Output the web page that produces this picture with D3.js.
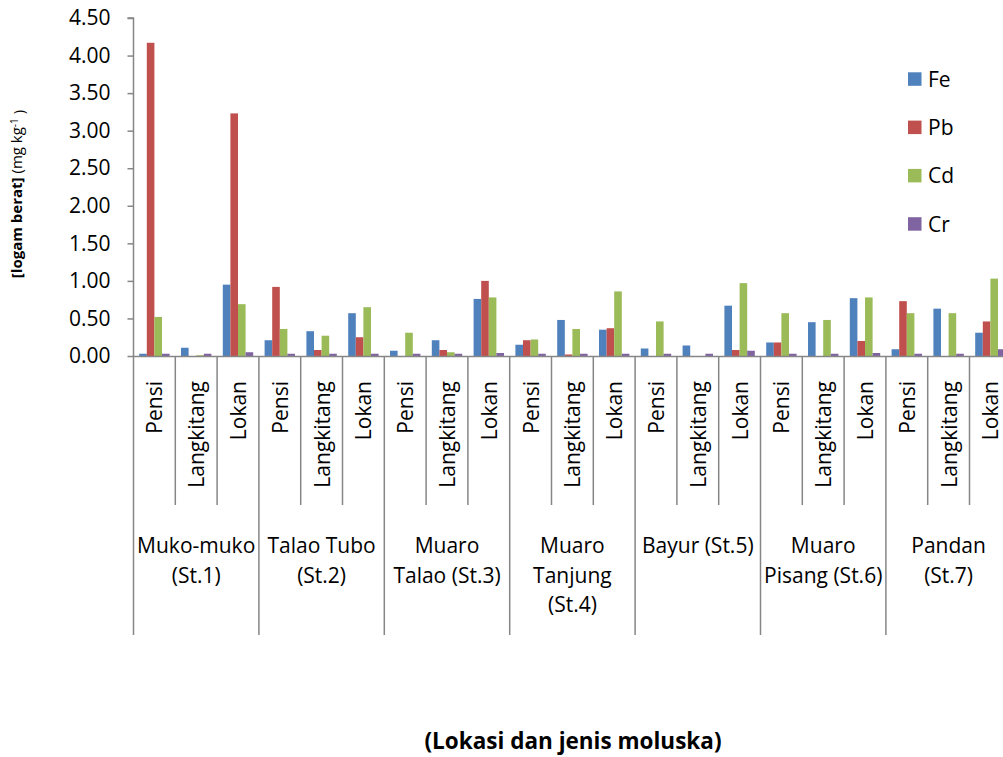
<!DOCTYPE html>
<html>
<head>
<meta charset="utf-8">
<script src="https://cdn.jsdelivr.net/npm/d3@7"></script>
<style>
  html, body { margin: 0; padding: 0; background: #fff; }
  svg { display: block; }
  text { font-family: "Open Sans", sans-serif; fill: #000; }
</style>
</head>
<body>
<svg id="chart" width="1003" height="757"></svg>
<script>
// ---- data ----
const stations = [
  ["Muko-muko", "(St.1)"],
  ["Talao Tubo", "(St.2)"],
  ["Muaro", "Talao (St.3)"],
  ["Muaro", "Tanjung", "(St.4)"],
  ["Bayur (St.5)"],
  ["Muaro", "Pisang (St.6)"],
  ["Pandan", "(St.7)"]
];
const species = ["Pensi", "Langkitang", "Lokan"];
const seriesNames = ["Fe", "Pb", "Cd", "Cr"];
const seriesColors = ["#4F81BD", "#C0504D", "#9BBB59", "#8064A2"];
const Fe = [0.03, 0.11, 0.95, 0.21, 0.33, 0.57, 0.07, 0.21, 0.76, 0.15, 0.48, 0.35, 0.10, 0.14, 0.67, 0.18, 0.45, 0.77, 0.09, 0.63, 0.31];
const Pb = [4.17, 0.00, 3.23, 0.92, 0.08, 0.25, 0.00, 0.08, 1.00, 0.21, 0.02, 0.37, 0.00, 0.00, 0.08, 0.18, 0.00, 0.20, 0.73, 0.00, 0.46];
const Cd = [0.52, 0.01, 0.69, 0.36, 0.27, 0.65, 0.31, 0.05, 0.78, 0.22, 0.36, 0.86, 0.46, 0.00, 0.97, 0.57, 0.48, 0.78, 0.57, 0.57, 1.03];
const Cr = [0.03, 0.03, 0.05, 0.03, 0.03, 0.03, 0.03, 0.03, 0.04, 0.03, 0.03, 0.03, 0.03, 0.03, 0.07, 0.03, 0.03, 0.04, 0.03, 0.03, 0.09];
const yTicks = [0, 0.5, 1.0, 1.5, 2.0, 2.5, 3.0, 3.5, 4.0, 4.5];
const yTitleBold = "[logam berat]";
const yTitleUnit = "(mg kg";
const yTitleSup = "-1";
const xTitle = "(Lokasi dan jenis moluska)";

// ---- build ----
const seriesValues = [Fe, Pb, Cd, Cr];
const cats = [];
stations.forEach((s, si) => species.forEach((sp, k) => cats.push({ id: si * 3 + k, station: si, species: sp })));

const svg = d3.select("#chart");
const axisColor = "#868686";
const left = 133.5, right = 1011.3, y0px = 356, y1px = 18;

const x = d3.scaleBand().domain(cats.map(c => c.id)).range([left, right]).padding(0);
const xs = d3.scaleBand().domain(seriesNames).range([0, x.bandwidth()]).paddingInner(0).paddingOuter(0.75);
const y = d3.scaleLinear().domain([0, 4.5]).range([y0px, y1px]);

// bars
const g = svg.append("g");
seriesNames.forEach((name, si) => {
  g.selectAll(null)
    .data(cats)
    .join("rect")
    .attr("x", c => x(c.id) + xs(name))
    .attr("width", xs.bandwidth())
    .attr("y", c => y(seriesValues[si][c.id]))
    .attr("height", c => y(0) - y(seriesValues[si][c.id]))
    .attr("fill", seriesColors[si]);
});

// y axis
const yAxis = svg.append("g")
  .attr("transform", `translate(${left},0)`)
  .call(d3.axisLeft(y).tickValues(yTicks).tickFormat(d3.format(".2f")).tickSize(6).tickPadding(17));
yAxis.select(".domain").attr("stroke", axisColor).attr("stroke-width", 1.5).attr("d", `M-6,${y1px}H0V${y0px}`);
yAxis.selectAll(".tick line").attr("stroke", axisColor).attr("stroke-width", 1.5);
yAxis.selectAll(".tick text").style("font-family", '"Open Sans", sans-serif').style("font-size", "21px").attr("fill", "#000");

// x axis line
const xAxis = svg.append("g")
  .attr("transform", `translate(0,${y0px})`)
  .call(d3.axisBottom(x).tickValues([]).tickSizeOuter(0));
xAxis.select(".domain").attr("stroke", axisColor).attr("stroke-width", 1.5);

// divider lines
const bounds = d3.range(cats.length + 1);
svg.append("g").selectAll("line")
  .data(bounds)
  .join("line")
  .attr("x1", i => i < cats.length ? x(i) : right)
  .attr("x2", i => i < cats.length ? x(i) : right)
  .attr("y1", y0px)
  .attr("y2", i => i % 3 === 0 ? 635 : 505)
  .attr("stroke", axisColor)
  .attr("stroke-width", 1.5);

// species labels
svg.append("g").selectAll("text")
  .data(cats)
  .join("text")
  .attr("transform", c => `translate(${x(c.id) + x.bandwidth() / 2},381) rotate(-90)`)
  .attr("text-anchor", "end")
  .attr("dy", "0.38em")
  .style("font-size", "21px")
  .text(c => c.species);

// station labels
const stG = svg.append("g").selectAll("text")
  .data(stations)
  .join("text")
  .attr("text-anchor", "middle")
  .style("font-size", "21px")
  .attr("transform", (s, i) => `translate(${x(i * 3) + x.bandwidth() * 1.5},553)`);
stG.selectAll("tspan")
  .data(s => s)
  .join("tspan")
  .attr("x", 0)
  .attr("y", (d, i) => i * 29.7)
  .text(d => d);

// y title
const yt = svg.append("text")
  .attr("transform", "translate(22,194) rotate(-90)")
  .attr("text-anchor", "middle")
  .style("font-size", "15px");
yt.append("tspan").style("font-weight", "bold").text(yTitleBold + " ");
yt.append("tspan").text(yTitleUnit);
yt.append("tspan").attr("dy", "-0.45em").style("font-size", "10px").text(yTitleSup);
yt.append("tspan").attr("dy", "0.45em").text(" )");

// x title
svg.append("text")
  .attr("x", 573)
  .attr("y", 749)
  .attr("text-anchor", "middle")
  .style("font-size", "22.5px")
  .style("font-weight", "bold")
  .text(xTitle);

// legend
const lg = svg.append("g").selectAll("g")
  .data(seriesNames)
  .join("g")
  .attr("transform", (d, i) => `translate(908,${72.3 + i * 48.3})`);
lg.append("rect").attr("width", 13.5).attr("height", 13.5).attr("fill", (d, i) => seriesColors[i]);
lg.append("text").attr("x", 20).attr("y", 6.75).attr("dy", "0.36em").style("font-size", "21px").text(d => d);
</script>
</body>
</html>
